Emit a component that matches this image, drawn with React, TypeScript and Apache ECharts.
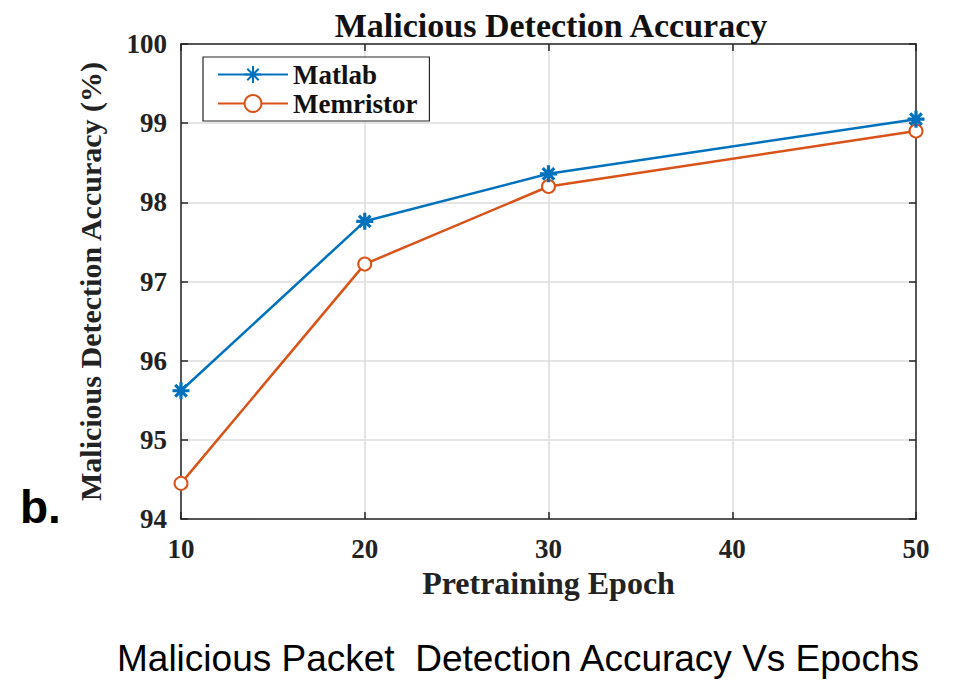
import React, { useEffect, useRef } from "react";
import * as echarts from "echarts";

const epochs = [10, 20, 30, 50];
const matlabAcc = [95.62, 97.76, 98.36, 99.05];
const memristorAcc = [94.45, 97.22, 98.2, 98.9];
const xTicks = [10, 20, 30, 40, 50];
const yTicks = [94, 95, 96, 97, 98, 99, 100];

const seriesNames = ["Matlab", "Memristor"];
const chartTitle = "Malicious Detection Accuracy";
const xName = "Pretraining Epoch";
const yName = "Malicious Detection Accuracy (%)";
const panelLabel = "b.";
const caption = "Malicious Packet  Detection Accuracy Vs Epochs";

const BLUE = "#0072BD";
const ORANGE = "#D95319";
const AXIS = "#262626";
const SERIF = "'Liberation Serif', 'Times New Roman', serif";
const SANS = "'Liberation Sans', Arial, sans-serif";

const asterisk =
  "path://M5,0 L5,10 M0,5 L10,5 M1.6,1.6 L8.4,8.4 M1.6,8.4 L8.4,1.6";

export default function App() {
  const ref = useRef<HTMLDivElement>(null);
  useEffect(() => {
    if (!ref.current) return;
    const chart = echarts.init(ref.current, undefined, { renderer: "svg" });
    const axisCommon = {
      axisLine: { show: true, lineStyle: { color: AXIS, width: 1.5 } },
      axisTick: { show: true, inside: true, length: 7, lineStyle: { color: AXIS, width: 1.5 } },
    };
    chart.setOption({
      animation: false,
      backgroundColor: "#ffffff",
      title: {
        text: chartTitle,
        left: 546,
        textAlign: "center",
        top: 3,
        textStyle: { fontFamily: SERIF, fontWeight: "bold", fontSize: 34, color: "#111" },
      },
      grid: { left: 181, right: 37, top: 44, bottom: 162 },
      legend: {
        orient: "vertical",
        left: 203,
        top: 57,
        padding: [4, 12, 4, 14],
        itemGap: 2,
        itemWidth: 70,
        itemHeight: 21,
        borderColor: AXIS,
        borderWidth: 1.2,
        backgroundColor: "#ffffff",
        data: seriesNames,
        textStyle: { fontFamily: SERIF, fontWeight: "bold", fontSize: 27, color: "#111" },
      },
      xAxis: [
        {
          type: "value",
          min: 10,
          max: 50,
          interval: 10,
          name: xName,
          nameLocation: "middle",
          nameGap: 46,
          nameTextStyle: { fontFamily: SERIF, fontWeight: "bold", fontSize: 32, color: "#222" },
          axisLabel: {
            margin: 16,
            fontFamily: SERIF,
            fontWeight: "bold",
            fontSize: 27,
            color: "#222",
            formatter: (v: number) => (xTicks.includes(v) ? String(v) : ""),
          },
          splitLine: { show: true, lineStyle: { color: "#dcdcdc", width: 1.5 } },
          ...axisCommon,
        },
        {
          type: "value",
          position: "top",
          min: 10,
          max: 50,
          interval: 10,
          axisLabel: { show: false },
          splitLine: { show: false },
          ...axisCommon,
        },
      ],
      yAxis: [
        {
          type: "value",
          min: 94,
          max: 100,
          interval: 1,
          name: yName,
          nameLocation: "middle",
          nameGap: 76,
          nameTextStyle: { fontFamily: SERIF, fontWeight: "bold", fontSize: 30, color: "#222" },
          axisLabel: {
            margin: 14,
            fontFamily: SERIF,
            fontWeight: "bold",
            fontSize: 27,
            color: "#222",
            formatter: (v: number) => (yTicks.includes(v) ? String(v) : ""),
          },
          splitLine: { show: true, lineStyle: { color: "#dcdcdc", width: 1.5 } },
          ...axisCommon,
        },
        {
          type: "value",
          position: "right",
          min: 94,
          max: 100,
          interval: 1,
          axisLabel: { show: false },
          splitLine: { show: false },
          ...axisCommon,
        },
      ],
      series: [
        {
          name: seriesNames[0],
          type: "line",
          data: epochs.map((e, i) => [e, matlabAcc[i]]),
          symbol: asterisk,
          symbolSize: 17,
          lineStyle: { color: BLUE, width: 2.5 },
          itemStyle: { color: BLUE, borderColor: BLUE, borderWidth: 3.2 },
          z: 3,
        },
        {
          name: seriesNames[1],
          type: "line",
          data: epochs.map((e, i) => [e, memristorAcc[i]]),
          symbol: "emptyCircle",
          symbolSize: 13,
          lineStyle: { color: ORANGE, width: 2.5 },
          itemStyle: { color: ORANGE, borderColor: ORANGE, borderWidth: 2.8 },
          z: 2,
        },
      ],
      graphic: [
        {
          type: "text",
          left: 20,
          top: 484,
          style: { text: panelLabel, font: `bold 46px ${SANS}`, fill: "#000" },
        },
        {
          type: "text",
          left: 117,
          top: 640,
          style: { text: caption, font: `37px ${SANS}`, fill: "#000" },
        },
      ],
    });
    return () => chart.dispose();
  }, []);
  return (
    <div
      ref={ref}
      style={{ position: "absolute", left: 0, top: 0, width: 953, height: 681 }}
    />
  );
}
